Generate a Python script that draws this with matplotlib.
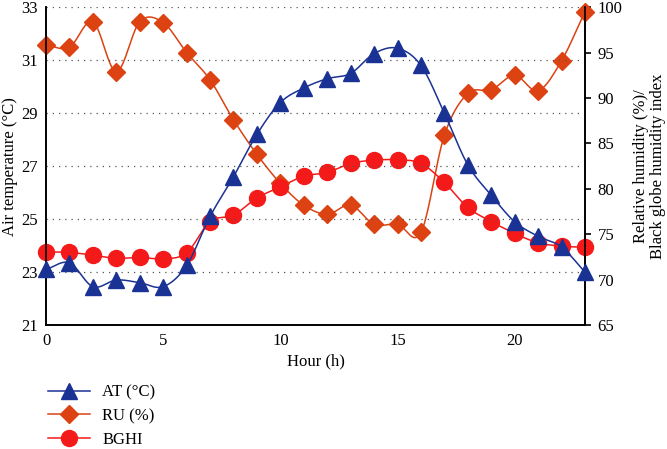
import numpy as np
import matplotlib
matplotlib.use('Agg')
import matplotlib.pyplot as plt
from matplotlib.lines import Line2D

plt.rcParams['font.family'] = ['Liberation Serif', 'DejaVu Serif']
plt.rcParams['font.size'] = 12

# data
hours = list(range(24))
at = [23.1, 23.35, 22.45, 22.7, 22.6, 22.45, 23.25, 25.1, 26.6, 28.2, 29.4, 29.95,
      30.3, 30.5, 31.25, 31.45, 30.8, 29.0, 27.05, 25.9, 24.9, 24.35, 23.95, 23.0]
ru = [95.8, 95.6, 98.4, 92.9, 98.4, 98.3, 95.0, 92.0, 87.6, 83.8, 80.6, 78.2,
      77.2, 78.2, 76.1, 76.1, 75.2, 85.9, 90.5, 90.9, 92.5, 90.8, 94.1, 99.5]
bghi = [73.05, 73.0, 72.7, 72.35, 72.45, 72.3, 72.95, 76.4, 77.1, 79.0, 80.2, 81.4,
        81.8, 82.8, 83.15, 83.2, 82.8, 80.7, 77.95, 76.4, 75.1, 74.05, 73.7, 73.55]

c_at = '#1a3294'
c_ru = '#dc4212'
c_bg = '#f51a1a'


def smooth(x, y, n=20):
    # catmull-rom style smoothing for the connecting line (Excel "smoothed line")
    x = np.asarray(x, float)
    y = np.asarray(y, float)
    px = np.concatenate([[2 * x[0] - x[1]], x, [2 * x[-1] - x[-2]]])
    py = np.concatenate([[2 * y[0] - y[1]], y, [2 * y[-1] - y[-2]]])
    xs, ys = [], []
    t = np.linspace(0, 1, n, endpoint=False)
    for i in range(1, len(px) - 2):
        for p, out in ((px, xs), (py, ys)):
            p0, p1, p2, p3 = p[i - 1], p[i], p[i + 1], p[i + 2]
            out.extend(0.5 * ((2 * p1) + (-p0 + p2) * t
                              + (2 * p0 - 5 * p1 + 4 * p2 - p3) * t ** 2
                              + (-p0 + 3 * p1 - 3 * p2 + p3) * t ** 3))
    xs.append(x[-1])
    ys.append(y[-1])
    return np.array(xs), np.array(ys)


fig = plt.figure(figsize=(6.67, 4.49), dpi=100)
ax = fig.add_axes([0.069, 0.276, 0.808, 0.708])
ax2 = ax.twinx()

ax.set_xlim(0, 23)
ax.set_ylim(21, 33)
ax.set_yticks([21, 23, 25, 27, 29, 31, 33])
ax.set_xticks([0, 5, 10, 15, 20])
ax2.set_ylim(65, 100)
ax2.set_yticks([65, 70, 75, 80, 85, 90, 95, 100])

for yv in [23, 25, 27, 29, 31, 33]:
    ax.axhline(yv, color='#555555', lw=0.9, linestyle=(0, (1, 4)), zorder=0)

# lines
sx, sy = smooth(hours, ru)
ax2.plot(sx, sy, color=c_ru, lw=1.1, zorder=2)
ax2.plot(hours, ru, linestyle='none', marker='D', ms=9.5, color=c_ru, zorder=3, clip_on=False)
sx, sy = smooth(hours, bghi)
ax2.plot(sx, sy, color=c_bg, lw=1.1, zorder=2)
ax2.plot(hours, bghi, linestyle='none', marker='o', ms=11.5, color=c_bg, zorder=3, clip_on=False)
sx, sy = smooth(hours, at)
ax.plot(sx, sy, color=c_at, lw=1.1, zorder=2)
ax.plot(hours, at, linestyle='none', marker='^', ms=12, color=c_at, zorder=3, clip_on=False)
ax.set_zorder(ax2.get_zorder() + 1)
ax.patch.set_visible(False)

for a in (ax, ax2):
    a.spines['top'].set_visible(False)
    for s in a.spines.values():
        s.set_linewidth(1.2)
ax.tick_params(axis='both', length=0, pad=6, labelsize=12)
ax2.tick_params(axis='y', length=4, width=1.2, pad=5, labelsize=12)

ax.set_xlabel('Hour (h)', fontsize=12, labelpad=3)
ax.set_ylabel('Air temperature (°C)', fontsize=12, labelpad=2)
ax2.set_ylabel('Relative humidity (%)/\nBlack globe humidity index', fontsize=12,
               labelpad=8, linespacing=1.05)

handles = [
    Line2D([], [], color=c_at, marker='^', ms=12, lw=1.1),
    Line2D([], [], color=c_ru, marker='D', ms=9.5, lw=1.1),
    Line2D([], [], color=c_bg, marker='o', ms=11.5, lw=1.1),
]
fig.legend(handles, ['AT (°C)', 'RU (%)', 'BGHI'], loc='center left',
           bbox_to_anchor=(0.062, 0.073), frameon=False, handlelength=2.5,
           handletextpad=0.75, labelspacing=0.44, fontsize=12, borderaxespad=0)

fig.savefig('out.png', dpi=100)
